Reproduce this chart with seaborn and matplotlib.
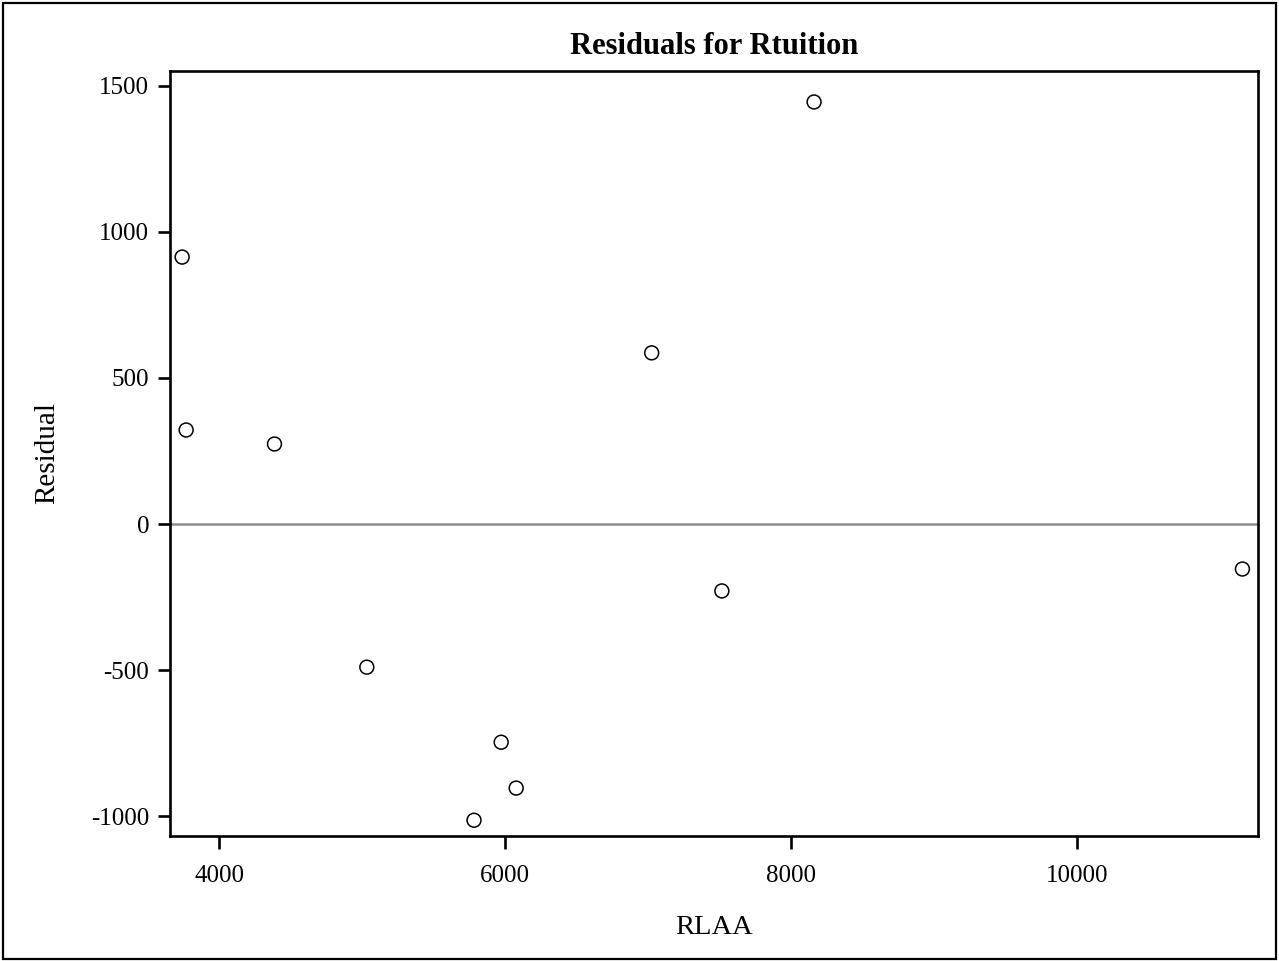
import matplotlib
matplotlib.use("Agg")
import matplotlib.pyplot as plt
import seaborn as sns
import pandas as pd
from matplotlib.patches import Rectangle

# Data
rlaa = [3740, 3768, 4386, 5032, 5782, 5972, 6077, 7025, 7516, 8161, 11158]
residual = [914, 322, 274, -490, -1014, -747, -904, 586, -229, 1445, -154]
xticks = [4000, 6000, 8000, 10000]
yticks = [-1000, -500, 0, 500, 1000, 1500]

df = pd.DataFrame({"RLAA": rlaa, "Residual": residual})

sns.set_theme(style="white")
plt.rcParams["font.family"] = ["Liberation Serif", "DejaVu Serif"]

fig = plt.figure(figsize=(12.79, 9.61), dpi=100)
ax = fig.add_axes([170 / 1279, 1 - 836 / 961, (1258 - 170) / 1279, (836 - 71) / 961])

ax.axhline(0, color="#8c8c8c", lw=1.8, zorder=1)
sns.scatterplot(data=df, x="RLAA", y="Residual", ax=ax, marker="o", s=100,
                facecolors="none", edgecolor="black", linewidth=1.1, zorder=3)

ax.set_xlim(3655, 11267)
ax.set_ylim(-1068, 1551)
ax.set_xticks(xticks)
ax.set_yticks(yticks)
ax.set_xticklabels([str(v) for v in xticks])
ax.set_yticklabels([str(v) for v in yticks])
ax.tick_params(axis="both", direction="out", length=9, width=1.9, color="black",
               labelsize=18, labelcolor="black", bottom=True, left=True)
ax.tick_params(axis="x", pad=12)
ax.tick_params(axis="y", pad=6)
for sp in ax.spines.values():
    sp.set_color("black")
    sp.set_linewidth(1.9)

ax.set_xlabel("RLAA", fontsize=20.5, color="black", labelpad=20)
ax.set_ylabel("Residual", fontsize=21, color="black", labelpad=22)
ax.set_title("Residuals for Rtuition", fontsize=22, fontweight="bold", color="black", pad=12)

fig.patches.append(Rectangle((3 / 1279, 2 / 961), 1273 / 1279, 956 / 961,
                             transform=fig.transFigure, fill=False,
                             edgecolor="black", linewidth=1.6))

fig.savefig("out.png", dpi=100, facecolor="white")
